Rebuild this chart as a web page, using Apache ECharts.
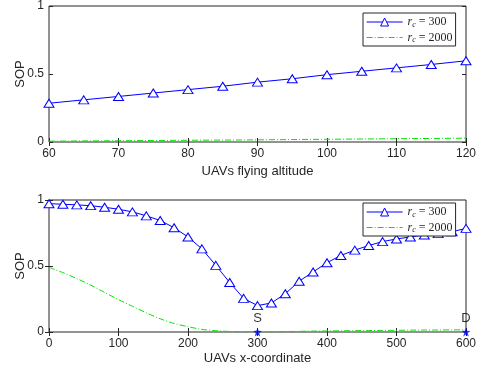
<!DOCTYPE html>
<html><head><meta charset="utf-8">
<script src="https://cdn.jsdelivr.net/npm/echarts@6/dist/echarts.min.js"></script>
<style>html,body{margin:0;padding:0;background:#fff}#c{width:479px;height:370px}</style>
</head><body><div id="c"></div>
<script>
// ---- data ----
var altX = [60,65,70,75,80,85,90,95,100,105,110,115,120];
var altR300 = [0.285,0.31,0.335,0.36,0.385,0.41,0.44,0.465,0.495,0.52,0.545,0.57,0.597];
var altR2000 = [0.006,0.008,0.009,0.011,0.013,0.014,0.016,0.018,0.02,0.022,0.024,0.026,0.028];
var posX = [0,20,40,60,80,100,120,140,160,180,200,220,240,260,280,300,320,340,360,380,400,420,440,460,480,500,520,540,560,580,600];
var posR300 = [0.972,0.968,0.963,0.957,0.945,0.93,0.91,0.88,0.845,0.79,0.72,0.63,0.505,0.375,0.255,0.2,0.22,0.29,0.385,0.455,0.525,0.58,0.62,0.655,0.685,0.705,0.72,0.735,0.745,0.76,0.785];
var posR2000 = [0.49,0.45,0.405,0.355,0.30,0.245,0.195,0.145,0.10,0.065,0.04,0.02,0.01,0.004,0.002,0.001,0.002,0.003,0.005,0.007,0.008,0.009,0.01,0.011,0.012,0.013,0.014,0.015,0.015,0.016,0.016];
var nodeX = [300,600];
var nodeY = [0,0];
var nodeNames = ['S','D'];
var yTicks = [0,0.5,1];

function pairs(xs, ys){ return xs.map(function(x,i){return [x, ys[i]];}); }

var txt = '#262626';
var font = 'Liberation Sans';
var BLUE = '#0000ff', GREEN = '#00e600';
var STAR = 'path://M50,0 L61.8,36.2 L100,38.2 L69.1,61.8 L80.9,100 L50,76.4 L19.1,100 L30.9,61.8 L0,38.2 L38.2,36.2 Z';

function xMain(gi, min, max, interval, name, gap){
  return {type:'value', gridIndex:gi, min:min, max:max, interval:interval, position:'bottom',
    name:name, nameLocation:'middle', nameGap:gap, nameMoveOverlap:false,
    nameTextStyle:{color:txt, fontFamily:font, fontSize:13},
    axisLine:{show:false}, axisTick:{inside:true, length:4, lineStyle:{color:txt}},
    axisLabel:{color:txt, fontFamily:font, fontSize:12, margin:6},
    splitLine:{show:false}};
}
function xTop(gi, min, max, interval){
  return {type:'value', gridIndex:gi, min:min, max:max, interval:interval, position:'top',
    axisLine:{show:false}, axisTick:{show:true, inside:true, length:4, lineStyle:{color:txt}},
    axisLabel:{show:false}, splitLine:{show:false}};
}
function yMain(gi){
  return {type:'value', gridIndex:gi, min:0, max:1, interval:0.5, position:'left',
    name:'SOP', nameLocation:'middle', nameGap:22, nameMoveOverlap:false,
    nameTextStyle:{color:txt, fontFamily:font, fontSize:13},
    axisLine:{show:false}, axisTick:{inside:true, length:4, lineStyle:{color:txt}},
    axisLabel:{color:txt, fontFamily:font, fontSize:12, margin:5,
      formatter:function(v){ return yTicks.indexOf(v)>=0 ? String(v) : ''; }},
    splitLine:{show:false}};
}
function yRight(gi){
  return {type:'value', gridIndex:gi, min:0, max:1, interval:0.5, position:'right',
    axisLine:{show:false}, axisTick:{show:true, inside:true, length:4, lineStyle:{color:txt}},
    axisLabel:{show:false}, splitLine:{show:false}};
}

var rich = {
  i:{fontStyle:'italic', fontFamily:'Liberation Serif', fontSize:12, color:txt},
  s:{fontStyle:'italic', fontFamily:'Liberation Serif', fontSize:8, color:txt, padding:[5,0,0,0]},
  n:{fontFamily:'Liberation Serif', fontSize:12, color:txt}
};
function legendFmt(name){
  return name === 'r300' ? '{i|r}{s|c}{n| = 300}' : '{i|r}{s|c}{n| = 2000}';
}
function legend(top){
  return {left:363, top:top, orient:'vertical',
    data:[
      {name:'r300', itemStyle:{color:'#fff', borderColor:BLUE, borderWidth:1}, lineStyle:{color:BLUE, width:1}},
      {name:'r2000', itemStyle:{color:'rgba(0,0,0,0)', borderColor:'rgba(0,0,0,0)', borderWidth:0}, lineStyle:{color:GREEN, width:1.2, type:[6,2,1,2]}}
    ],
    itemWidth:36, itemHeight:10, itemGap:3, padding:[3,3,2,3],
    borderColor:txt, borderWidth:1, borderRadius:0, backgroundColor:'#fff',
    formatter:legendFmt, textStyle:{rich:rich}, selectedMode:false};
}

var lineBlue = {color:BLUE, width:1};
var lineGreen = {color:GREEN, width:1, type:[6,2,1,2]};
var triStyle = {color:'#fff', borderColor:BLUE, borderWidth:1};

var option = {
  animation:false,
  backgroundColor:'#fff',
  grid:[
    {left:49, right:13, top:6, height:136, show:true, borderColor:txt, borderWidth:1, backgroundColor:'transparent', outerBoundsMode:'none', containLabel:false},
    {left:49, right:13, top:200, height:132, show:true, borderColor:txt, borderWidth:1, backgroundColor:'transparent', outerBoundsMode:'none', containLabel:false}
  ],
  xAxis:[ xMain(0,60,120,10,'UAVs flying altitude',23), xTop(0,60,120,10),
          xMain(1,0,600,100,'UAVs x-coordinate',20), xTop(1,0,600,100) ],
  yAxis:[ yMain(0), yRight(0), yMain(1), yRight(1) ],
  legend:[ legend(13), legend(203) ],
  series:[
    {name:'r300', type:'line', xAxisIndex:0, yAxisIndex:0, data:pairs(altX, altR300),
      symbol:'triangle', symbolSize:[10,8], lineStyle:lineBlue, itemStyle:triStyle, z:3},
    {name:'r2000', type:'line', xAxisIndex:0, yAxisIndex:0, data:pairs(altX, altR2000),
      showSymbol:false, symbol:'none', lineStyle:lineGreen, itemStyle:{color:GREEN}, z:2},
    {name:'r300', type:'line', xAxisIndex:2, yAxisIndex:2, data:pairs(posX, posR300),
      symbol:'triangle', symbolSize:[10,8], lineStyle:lineBlue, itemStyle:triStyle, z:3},
    {name:'r2000', type:'line', xAxisIndex:2, yAxisIndex:2, data:pairs(posX, posR2000), smooth:0.3,
      showSymbol:false, symbol:'none', lineStyle:lineGreen, itemStyle:{color:GREEN}, z:2},
    {name:'nodes', type:'scatter', xAxisIndex:2, yAxisIndex:2,
      data:nodeX.map(function(x,i){return {value:[x,nodeY[i]], name:nodeNames[i]};}),
      symbol:STAR, symbolSize:9, itemStyle:{color:BLUE}, z:5,
      label:{show:true, position:'top', distance:3, formatter:'{b}', color:'#000', fontFamily:font, fontSize:13}}
  ]
};
var chart = echarts.init(document.getElementById('c'), null, {renderer:'canvas'});
chart.setOption(option);
</script>
</body></html>
